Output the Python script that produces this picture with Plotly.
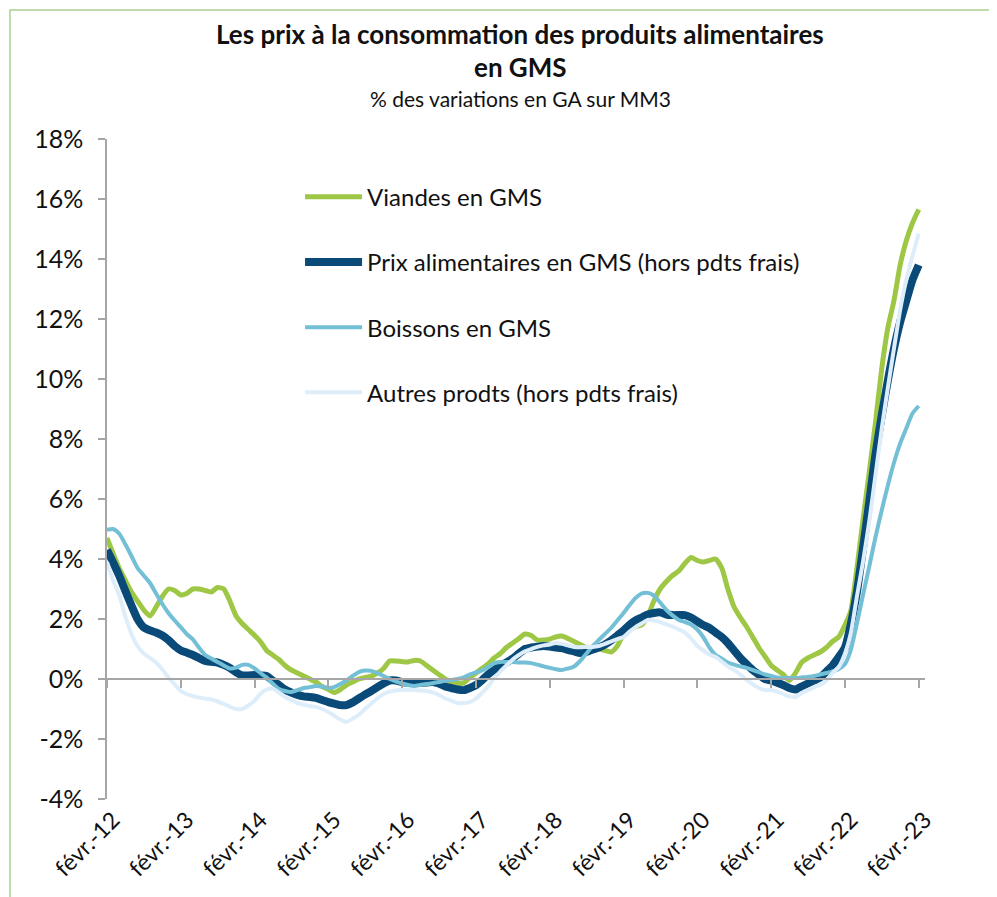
import plotly.graph_objects as go
import pandas as pd

# Monthly dates: Feb 2012 .. Feb 2023
dates = pd.date_range("2012-02-01", "2023-02-01", freq="MS")

viandes = [
    4.7, 4.2, 3.7, 3.3, 2.9, 2.6, 2.3, 2.1, 2.4, 2.75, 3.0, 2.95,
    2.8, 2.85, 3.0, 3.0, 2.95, 2.9, 3.05, 3.0, 2.6, 2.1, 1.85, 1.65,
    1.45, 1.25, 0.95, 0.8, 0.65, 0.45, 0.3, 0.2, 0.1, 0.0, -0.1, -0.25,
    -0.35, -0.45, -0.35, -0.2, -0.1, 0.0, 0.05, 0.1, 0.2, 0.35, 0.6, 0.6,
    0.58, 0.57, 0.62, 0.6, 0.45, 0.3, 0.15, 0.0, -0.1, -0.15, -0.13, 0.05,
    0.2, 0.35, 0.5, 0.7, 0.85, 1.05, 1.2, 1.35, 1.5, 1.45, 1.3, 1.3,
    1.33, 1.4, 1.43, 1.35, 1.25, 1.15, 1.05, 1.0, 1.0, 0.95, 0.9, 1.1,
    1.5, 1.7, 1.75, 1.8, 2.1, 2.6, 3.0, 3.25, 3.45, 3.6, 3.85, 4.05,
    3.95, 3.9, 3.95, 4.0, 3.7, 3.0, 2.4, 2.05, 1.75, 1.4, 1.05, 0.75,
    0.45, 0.3, 0.15, -0.05, 0.2, 0.55, 0.7, 0.8, 0.9, 1.05, 1.25, 1.4,
    1.8, 2.25, 3.7, 5.3, 6.9, 8.5, 10.3, 11.7, 12.6, 13.8, 14.6, 15.2,
    15.65,
]

prix_alim = [
    4.3, 3.9, 3.45, 2.95, 2.45, 2.0, 1.72, 1.62, 1.55, 1.45, 1.3, 1.1,
    0.95, 0.88, 0.8, 0.7, 0.6, 0.57, 0.55, 0.47, 0.37, 0.22, 0.12, 0.12,
    0.13, 0.12, 0.1, -0.05, -0.2, -0.35, -0.45, -0.53, -0.58, -0.6, -0.63, -0.7,
    -0.77, -0.82, -0.87, -0.87, -0.78, -0.65, -0.52, -0.4, -0.27, -0.15, -0.05, -0.05,
    -0.1, -0.12, -0.12, -0.13, -0.12, -0.1, -0.15, -0.25, -0.3, -0.35, -0.37, -0.3,
    -0.2, -0.05, 0.15, 0.3, 0.42, 0.55, 0.68, 0.85, 1.0, 1.05, 1.08, 1.1,
    1.08, 1.05, 1.03, 0.97, 0.92, 0.87, 0.9, 0.98, 1.05, 1.15, 1.28, 1.45,
    1.62, 1.8, 1.95, 2.05, 2.15, 2.2, 2.22, 2.15, 2.13, 2.13, 2.13, 2.05,
    1.92, 1.8, 1.7, 1.55, 1.4, 1.2, 0.95, 0.7, 0.5, 0.3, 0.15, 0.0,
    -0.05, -0.12, -0.2, -0.3, -0.35, -0.25, -0.15, -0.05, 0.05, 0.25, 0.45, 0.73,
    1.05, 1.8, 2.9, 4.35, 5.9, 7.45, 8.75, 9.95, 11.0, 11.9, 12.6, 13.3,
    13.8,
]

boissons = [
    4.97, 5.0, 4.85, 4.5, 4.1, 3.7, 3.45, 3.2, 2.85, 2.5, 2.2, 1.95,
    1.72, 1.5, 1.32, 1.05, 0.8, 0.68, 0.57, 0.45, 0.35, 0.38, 0.47, 0.47,
    0.35, 0.2, 0.05, -0.15, -0.33, -0.4, -0.43, -0.37, -0.3, -0.27, -0.23, -0.25,
    -0.3, -0.27, -0.17, -0.05, 0.1, 0.23, 0.28, 0.27, 0.2, 0.1, 0.0, -0.08,
    -0.15, -0.2, -0.23, -0.2, -0.17, -0.14, -0.1, -0.06, -0.03, 0.0, 0.05, 0.15,
    0.22, 0.28, 0.4, 0.53, 0.57, 0.57, 0.57, 0.55, 0.55, 0.53, 0.48, 0.42,
    0.37, 0.33, 0.3, 0.35, 0.42, 0.6, 0.85, 1.1, 1.3, 1.5, 1.7, 1.95,
    2.2, 2.45, 2.7, 2.85, 2.87, 2.78, 2.55, 2.3, 2.12, 1.97, 1.9, 1.82,
    1.65, 1.4, 1.05, 0.8, 0.68, 0.55, 0.48, 0.42, 0.37, 0.3, 0.23, 0.15,
    0.1, 0.05, 0.03, 0.03, 0.03, 0.05, 0.07, 0.1, 0.15, 0.2, 0.25, 0.33,
    0.5, 0.95, 1.85, 2.8, 3.75, 4.7, 5.6, 6.45, 7.2, 7.85, 8.35, 8.85,
    9.1,
]

autres = [
    3.9, 3.3, 2.8, 2.1, 1.5, 1.1, 0.85, 0.7, 0.55, 0.32, 0.05, -0.18,
    -0.4, -0.5, -0.57, -0.62, -0.65, -0.68, -0.75, -0.83, -0.92, -1.0, -1.0, -0.88,
    -0.72, -0.5, -0.35, -0.32, -0.45, -0.6, -0.7, -0.8, -0.85, -0.9, -0.93, -1.0,
    -1.1, -1.22, -1.35, -1.43, -1.32, -1.2, -1.0, -0.82, -0.65, -0.5, -0.42, -0.38,
    -0.37, -0.37, -0.37, -0.38, -0.4, -0.45, -0.53, -0.65, -0.72, -0.8, -0.8, -0.77,
    -0.65, -0.47, -0.25, 0.03, 0.25, 0.45, 0.65, 0.8, 0.92, 1.0, 1.07, 1.12,
    1.15, 1.2, 1.17, 1.12, 1.07, 1.06, 1.07, 1.07, 1.1, 1.17, 1.25, 1.33,
    1.4, 1.57, 1.73, 1.85, 1.97, 1.95, 1.9, 1.82, 1.75, 1.65, 1.55, 1.35,
    1.1, 0.95, 0.82, 0.73, 0.58, 0.42, 0.3, 0.15, -0.02, -0.17, -0.3, -0.37,
    -0.37, -0.42, -0.5, -0.58, -0.6, -0.47, -0.37, -0.28, -0.2, -0.05, 0.2, 0.4,
    0.85, 1.5, 2.75, 3.9, 5.25, 6.75, 8.3, 9.7, 11.0, 12.3, 13.3, 14.1,
    14.85,
]

series_names = [
    "Viandes en GMS",
    "Prix alimentaires en GMS (hors pdts frais)",
    "Boissons en GMS",
    "Autres prodts (hors pdts frais)",
]
series_values = [viandes, prix_alim, boissons, autres]
series_colors = ["#9DC744", "#0A4A79", "#72BFD6", "#DDEEFA"]
series_widths = [5, 8, 4, 4]

tick_years = list(range(2012, 2024))
tick_dates = [f"{y}-02-01" for y in tick_years]
tick_labels = [f"févr.-{str(y)[2:]}" for y in tick_years]

y_ticks = list(range(-4, 19, 2))
y_labels = [f"{v}%" for v in y_ticks]

FONT = "Lato, 'Open Sans', sans-serif"

fig = go.Figure()
for i, (name, vals, col, w) in enumerate(zip(series_names, series_values, series_colors, series_widths)):
    fig.add_trace(go.Scatter(
        x=dates, y=vals, name=name, mode="lines",
        line=dict(color=col, width=w, shape="spline", smoothing=0.6),
        legendgroup=f"g{i}",
        hoverinfo="x+y+name",
    ))

x_range = ["2012-02-01", "2023-03-04"]

fig.update_layout(
    width=997, height=897,
    margin=dict(l=99, r=80, t=131, b=106),
    paper_bgcolor="white", plot_bgcolor="white",
    font=dict(family=FONT, color="#111111"),
    showlegend=True,
    legend=dict(
        x=0.236, y=0.946, xanchor="left", yanchor="top",
        font=dict(size=24, family=FONT, color="#111111"),
        bgcolor="rgba(0,0,0,0)",
        traceorder="grouped", tracegroupgap=31,
        itemwidth=57,
    ),
    xaxis=dict(
        type="date", range=x_range,
        tickmode="array", tickvals=tick_dates, ticktext=tick_labels,
        tickangle=-45, tickfont=dict(size=23, family=FONT, color="#111111"),
        showline=False, showgrid=False, zeroline=False, ticks="",
        ticklabelshift=6, ticklabelstandoff=2,
    ),
    xaxis2=dict(
        type="date", range=x_range, overlaying="x", anchor="free",
        position=4 / 22,
        tickmode="array", tickvals=tick_dates,
        showticklabels=False, showline=True, linecolor="#A6A6A6", linewidth=1.5,
        ticks="outside", ticklen=8, tickcolor="#A6A6A6", tickwidth=1.5,
        showgrid=False, zeroline=False,
    ),
    yaxis=dict(
        range=[-4, 18], tickmode="array", tickvals=y_ticks, ticktext=y_labels,
        tickfont=dict(size=25, family=FONT, color="#111111"),
        showline=True, linecolor="#A6A6A6", linewidth=1.5,
        ticks="outside", ticklen=7, tickcolor="#A6A6A6", tickwidth=1.5,
        ticklabelstandoff=10,
        showgrid=False, zeroline=False,
    ),
    shapes=[dict(
        type="rect", xref="paper", yref="paper",
        x0=-0.1186, x1=1.3, y0=-0.3, y1=1.1955,
        line=dict(color="#A9D18E", width=1.5), fillcolor="rgba(0,0,0,0)",
        layer="below",
    )],
    annotations=[
        dict(text="<b>Les prix à la consommation des produits alimentaires</b>",
             xref="paper", yref="paper", x=0.505, y=1.1595, showarrow=False,
             xanchor="center", yanchor="middle",
             font=dict(size=26, family=FONT, color="#111111")),
        dict(text="<b>en GMS</b>",
             xref="paper", yref="paper", x=0.505, y=1.1086, showarrow=False,
             xanchor="center", yanchor="middle",
             font=dict(size=26, family=FONT, color="#111111")),
        dict(text="% des variations en GA sur MM3",
             xref="paper", yref="paper", x=0.505, y=1.0621, showarrow=False,
             xanchor="center", yanchor="middle",
             font=dict(size=21, family=FONT, color="#111111")),
    ],
)

# Link xaxis2 so it renders
fig.add_trace(go.Scatter(x=[dates[0]], y=[None], xaxis="x2", showlegend=False,
                         hoverinfo="skip", mode="lines"))

fig.write_html("out.html")
